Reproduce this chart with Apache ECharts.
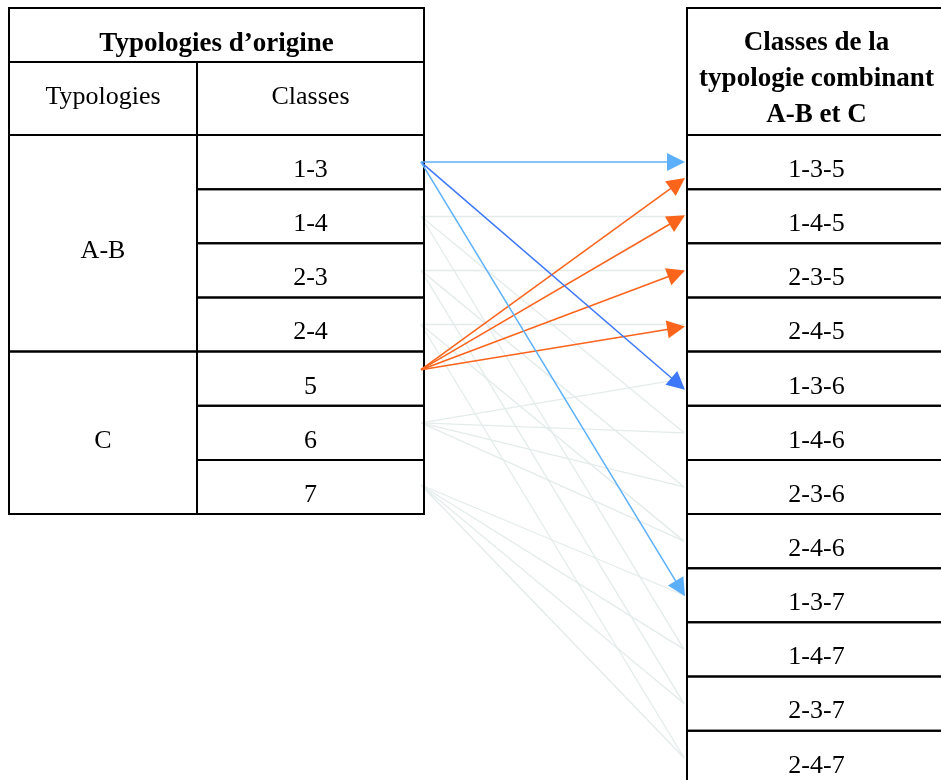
<!DOCTYPE html>
<html><head><meta charset="utf-8">
<script src="https://cdn.jsdelivr.net/npm/echarts@6/dist/echarts.min.js"></script>
<style>html,body{margin:0;padding:0;background:#fff}#c{width:941px;height:780px}</style>
</head><body><div id="c"></div>
<script>
// ---- data ----
const originHeader = 'Typologies d’origine';
const originColHeaders = ['Typologies', 'Classes'];
const groups = ['A-B', 'C'];
const groupClasses = [['1-3', '1-4', '2-3', '2-4'], ['5', '6', '7']];
const combinedHeader = 'Classes de la\ntypologie combinant\nA-B et C';
const combined = ['1-3-5', '1-4-5', '2-3-5', '2-4-5', '1-3-6', '1-4-6', '2-3-6', '2-4-6', '1-3-7', '1-4-7', '2-3-7', '2-4-7'];
const highlighted = ['1-3', '5'];

// ---- layout / style ----
const L = { xL0: 9, xL1: 197, xL2: 424, xR0: 687, xR1: 946, yTop: 8, yH1: 62, yBody: 135, rowH: 54.15 };
const srcX = 421, tgtX = 685, arrowSize = 18;
const srcOffset = { '5': -9, '6': -10, '7': -2 };
const tgtOffset = { '5>1-3-5': 16, '5>2-4-5': 2, '1-3>1-3-6': 11, '1-3>1-3-7': 1, '5>1-4-5': -1 };
const colors = { '1-3': '#5cb0fb', '1-3>1-3-6': '#3d78fb', '5': '#fa641b', faint: '#e4eceb' };
const FONT = '"Liberation Serif", "Times New Roman", serif';
const FS = 26, FSB = 27;

const allClasses = groupClasses.flat();
const rowCenter = i => L.yBody + (i + 0.5) * L.rowH;

// ---- table cells ----
const cells = [];
cells.push([L.xL0, L.yTop, L.xL2, L.yH1, originHeader, 1, 9]);
cells.push([L.xL0, L.yH1, L.xL1, L.yBody, originColHeaders[0], 0, -1]);
cells.push([L.xL1, L.yH1, L.xL2, L.yBody, originColHeaders[1], 0, -1]);
let r = 0;
groups.forEach((g, gi) => {
  const n = groupClasses[gi].length;
  cells.push([L.xL0, L.yBody + r * L.rowH, L.xL1, L.yBody + (r + n) * L.rowH, g, 0, 8]);
  groupClasses[gi].forEach((c, k) => {
    cells.push([L.xL1, L.yBody + (r + k) * L.rowH, L.xL2, L.yBody + (r + k + 1) * L.rowH, c, 0, 8]);
  });
  r += n;
});
cells.push([L.xR0, L.yTop, L.xR1, L.yBody, combinedHeader, 1, 8]);
combined.forEach((c, i) => {
  cells.push([L.xR0, L.yBody + i * L.rowH, L.xR1, L.yBody + (i + 1) * L.rowH, c, 0, 8]);
});

// ---- links ----
const faint = [], strong = [];
combined.forEach((c, ti) => {
  const p = c.split('-');
  [p[0] + '-' + p[1], p[2]].forEach(src => {
    const si = allClasses.indexOf(src);
    const key = src + '>' + c;
    const y0 = rowCenter(si) + (srcOffset[src] || 0);
    if (highlighted.includes(src)) {
      const y1 = rowCenter(ti) + (tgtOffset[key] || 0);
      const dx = tgtX - srcX, dy = y1 - y0, len = Math.hypot(dx, dy);
      const ex = tgtX - dx / len * arrowSize / 2, ey = y1 - dy / len * arrowSize / 2;
      strong.push({ coords: [[srcX, y0], [ex, ey]], lineStyle: { color: colors[key] || colors[src] } });
    } else {
      faint.push({ coords: [[srcX, y0], [tgtX - 1, rowCenter(ti)]] });
    }
  });
});

const chart = echarts.init(document.getElementById('c'), null, { renderer: 'canvas' });
chart.setOption({
  backgroundColor: '#fff',
  animation: false,
  grid: { left: 0, right: 0, top: 0, bottom: 0 },
  xAxis: { type: 'value', min: 0, max: 941, show: false },
  yAxis: { type: 'value', min: 0, max: 780, inverse: true, show: false },
  series: [
    {
      type: 'lines', coordinateSystem: 'cartesian2d', z: 1,
      symbol: ['none', 'none'],
      lineStyle: { color: colors.faint, width: 1.3, opacity: 1 },
      data: faint
    },
    {
      type: 'lines', coordinateSystem: 'cartesian2d', z: 3,
      symbol: ['none', 'triangle'], symbolSize: arrowSize,
      lineStyle: { width: 1.5, opacity: 1 },
      data: strong
    },
    {
      type: 'custom', z: 2,
      data: cells,
      renderItem: (params, api) => {
        const d = cells[params.dataIndex];
        const p0 = api.coord([d[0], d[1]]), p1 = api.coord([d[2], d[3]]);
        return {
          type: 'group',
          children: [
            { type: 'rect', shape: { x: p0[0], y: p0[1], width: p1[0] - p0[0], height: p1[1] - p0[1] },
              style: { fill: 'none', stroke: '#000', lineWidth: 2 } },
            { type: 'text', style: {
                text: d[4], x: (p0[0] + p1[0]) / 2, y: (p0[1] + p1[1]) / 2 + d[6],
                align: 'center', verticalAlign: 'middle',
                fontFamily: FONT, fontSize: d[5] ? FSB : FS, fontWeight: d[5] ? 'bold' : 'normal',
                lineHeight: 36, fill: '#000' } }
          ]
        };
      }
    }
  ]
});
</script>
</body></html>
